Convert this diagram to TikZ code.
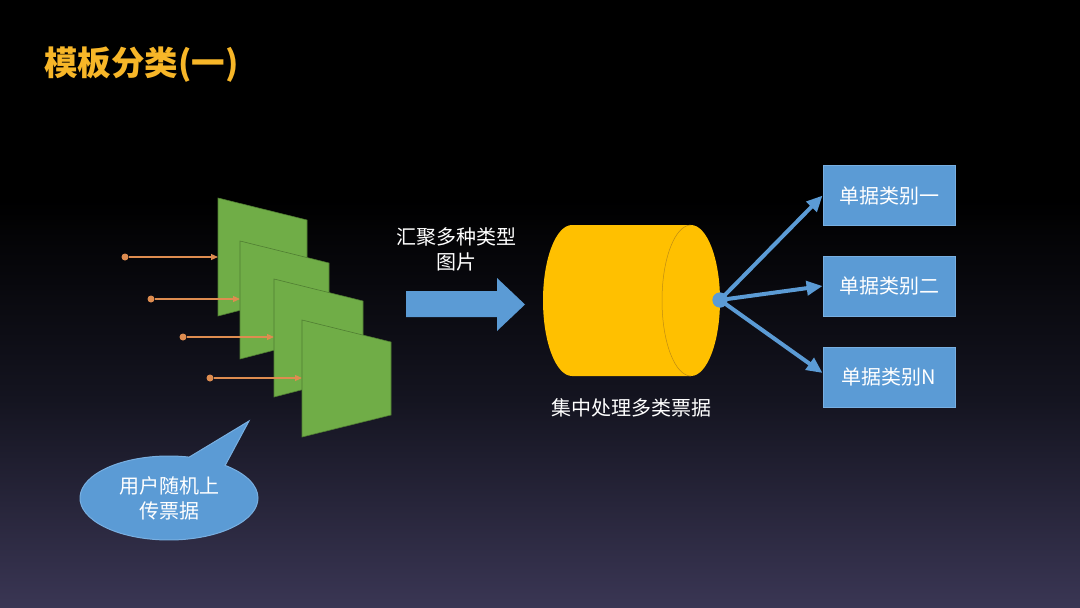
\documentclass[tikz,border=0pt]{standalone}
\usepackage{fontspec}
\newfontfamily\cjk{Noto Sans CJK SC}
\usetikzlibrary{arrows.meta,shapes.callouts,shapes.geometric}
\definecolor{bgmid}{RGB}{20,20,32}
\definecolor{bgbot}{RGB}{58,54,84}
\definecolor{titlec}{RGB}{247,182,40}
\definecolor{greenc}{RGB}{112,173,71}
\definecolor{greend}{RGB}{80,126,50}
\definecolor{orangec}{RGB}{222,140,80}
\definecolor{bluec}{RGB}{91,155,213}
\definecolor{blueb}{RGB}{120,175,225}
\definecolor{yellowc}{RGB}{255,192,0}
\definecolor{yellowd}{RGB}{190,140,20}
\tikzset{
  panel/.style={fill=greenc, draw=greend, line width=0.6pt},
  odot/.style={circle, fill=orangec, minimum size=7pt, inner sep=0pt},
  oline/.style={draw=orangec, line width=1.2pt, -{Triangle[length=7pt,width=6pt]}},
  bdot/.style={circle, fill=bluec, minimum size=15pt, inner sep=0pt},
  barrow/.style={draw=bluec, line width=4pt, -{Triangle[length=16pt,width=14pt]}},
  catbox/.style={rectangle, fill=bluec, draw=blueb, line width=0.8pt, minimum width=132pt, minimum height=60pt, text=white, font=\cjk\fontsize{20}{25}\selectfont},
  wlabel/.style={text=white, align=center, font=\cjk\fontsize{20}{25}\selectfont, inner sep=0pt},
}
\begin{document}
\begin{tikzpicture}[x=1pt,y=-1pt]
\useasboundingbox (0,0) rectangle (1080,608);
% background
\fill[black] (0,0) rectangle (1080,200);
\shade[top color=black, bottom color=bgmid] (0,199.5) rectangle (1080,400);
\shade[top color=bgmid, bottom color=bgbot] (0,399.5) rectangle (1080,608);
% title
\node[anchor=west, text=titlec, inner sep=0pt, font=\cjk\bfseries\fontsize{33.5}{38}\selectfont] (title) at (44,65) {模板分类(一)};
% panels and lines
\node[odot] (s1) at (125,257) {};
\node[odot] (s2) at (151,299) {};
\node[odot] (s3) at (183,337) {};
\node[odot] (s4) at (210,378) {};
\coordinate (e1) at (218,257);
\coordinate (e2) at (240,299);
\coordinate (e3) at (274,337);
\coordinate (e4) at (302,378);
\draw[oline] (s1) -- (e1);
\filldraw[panel] (218,198) -- (307,220) -- (307,293) -- (218,316) -- cycle;
\draw[oline] (s2) -- (e2);
\filldraw[panel] (240,241) -- (329,263) -- (329,336) -- (240,359) -- cycle;
\draw[oline] (s3) -- (e3);
\filldraw[panel] (274,279) -- (363,301) -- (363,374) -- (274,397) -- cycle;
\draw[oline] (s4) -- (e4);
\filldraw[panel] (302,320) -- (391,342) -- (391,415) -- (302,437) -- cycle;
% callout
\node[ellipse callout, fill=bluec, draw=blueb, line width=1pt, minimum width=178pt, minimum height=84pt,
      callout absolute pointer={(249,421)}, callout pointer arc=26,
      wlabel, inner sep=0pt] (call) at (169,498) {用户随机上\\传票据};
% big arrow
\fill[bluec] (406,291) -- (497,291) -- (497,278) -- (525,304.5) -- (497,331) -- (497,317) -- (406,317) -- cycle;
\node[wlabel] (lab1) at (456,249) {汇聚多种类型\\图片};
% cylinder
\fill[yellowc] (572,225) -- (691,225) arc[start angle=90, end angle=-90, x radius=29pt, y radius=75.5pt]
   -- (572,376) arc[start angle=270, end angle=90, x radius=29pt, y radius=75.5pt] -- cycle;
\draw[yellowd, line width=0.5pt] (691,225) arc[start angle=90, end angle=270, x radius=29pt, y radius=75.5pt];
\node[wlabel] (lab2) at (631,408) {集中处理多类票据};
% hub and categories
\node[catbox] (c1) at (889,195.5) {单据类别一};
\node[catbox] (c2) at (889,286) {单据类别二};
\node[catbox] (c3) at (889,377) {单据类别N};
\node[bdot] (hub) at (720,300) {};
\draw[barrow] (hub.center) -- (c1.west);
\draw[barrow] (hub.center) -- (c2.west);
\draw[barrow] (hub.center) -- ([yshift=4pt]c3.west);
\node[bdot] at (hub) {};
\end{tikzpicture}
\end{document}
